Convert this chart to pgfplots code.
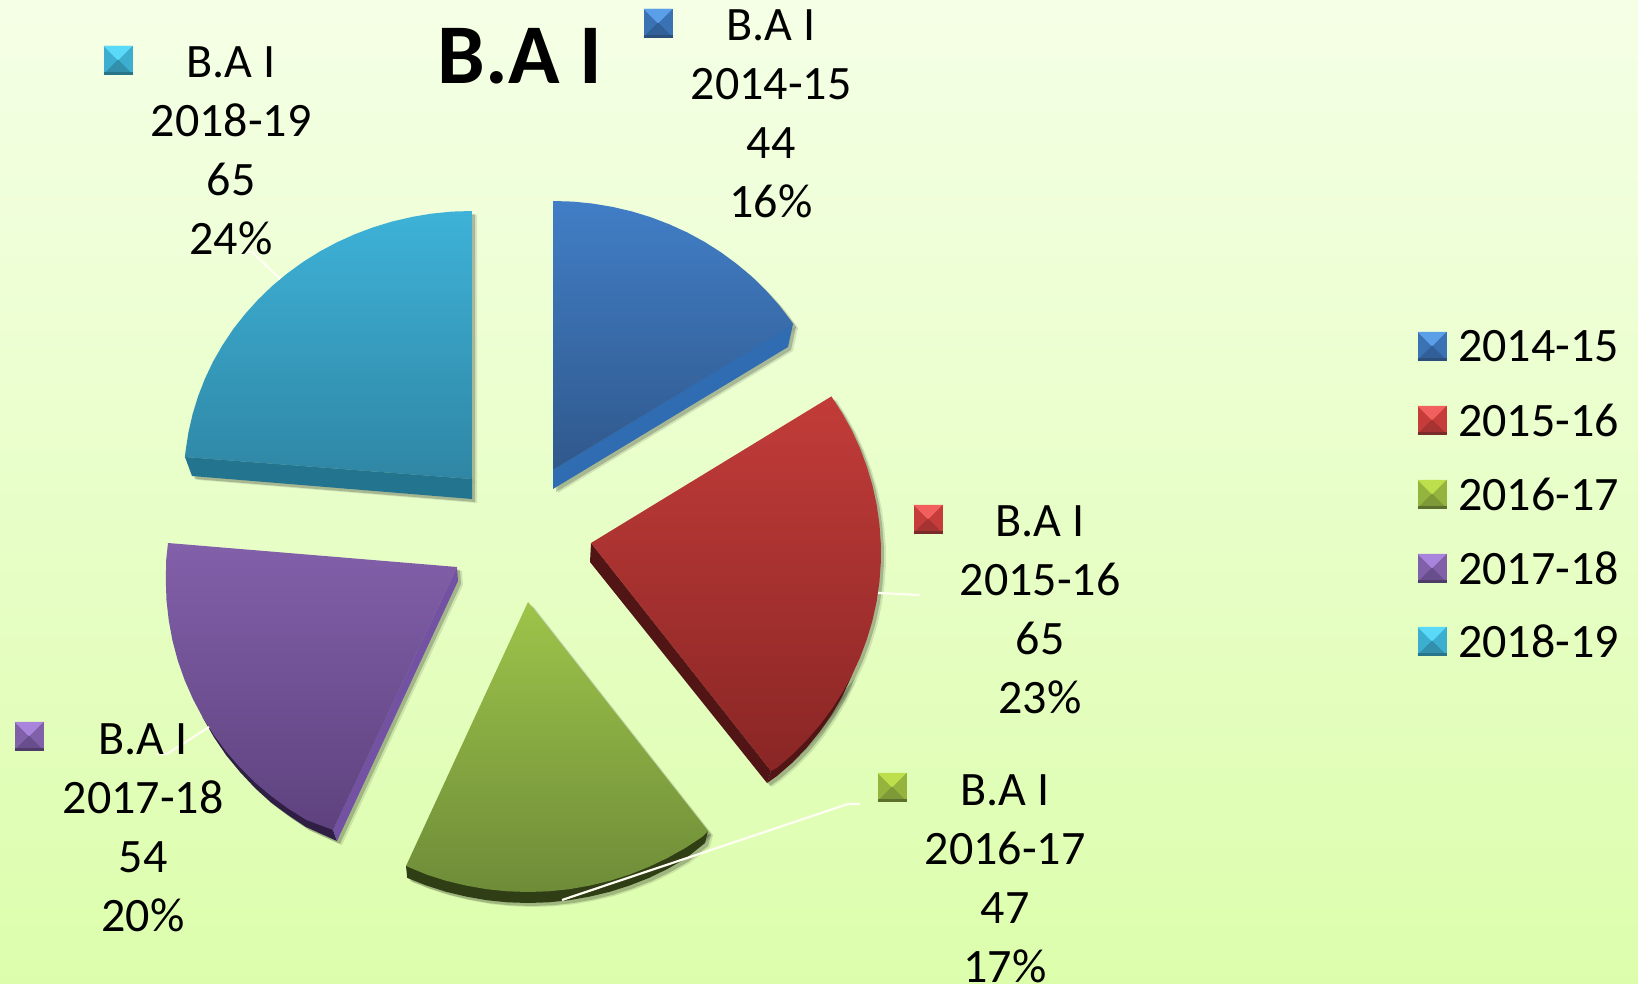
\documentclass[border=0pt]{standalone}
\usepackage{fontspec}
\setmainfont{Carlito}
\usepackage{pgfplots}
\usepackage{pgfplotstable}
\pgfplotsset{compat=1.18}

% chart values: 2014-15 44, 2015-16 65, 2016-17 47, 2017-18 54, 2018-19 65
\pgfplotstableread{
x y
553 201
573.0 201.6
592.8 203.6
612.5 206.9
631.8 211.4
650.8 217.2
669.3 224.3
687.3 232.5
704.6 241.9
721.1 252.4
736.8 264.0
751.7 276.5
765.5 290.0
778.4 304.4
790.1 319.6
793.4 324.3
553 470
}\tblueTop
\pgfplotstableread{
x y
793 324
788 347
553 489
553 470
}\tblueSide
\pgfplotstableread{
x y
591 543
831.4 396.4
842.1 413.0
851.7 430.2
859.9 448.1
866.8 466.5
872.4 485.3
876.6 504.4
879.4 523.7
880.8 543.2
880.8 562.8
879.4 582.3
876.6 601.6
872.4 620.7
866.8 639.5
859.9 657.9
851.7 675.8
842.1 693.0
831.4 709.6
819.5 725.4
806.5 740.3
792.5 754.4
777.4 767.5
771 771
}\tredTop
\pgfplotstableread{
x y
591 543
771 771
767 783
590 562
}\tredSide
\pgfplotstableread{
x y
771 771
767 783
777 776
792.5 762.5
806.5 748
819.5 732
831.4 715
842 697
851.7 675.8
}\tredArc
\pgfplotstableread{
x y
528 602
708 831
702.6 836.6
685.4 847.9
667.4 858.0
648.8 866.9
629.6 874.5
609.9 880.8
589.7 885.6
569.3 889.2
548.7 891.3
528 892
507.3 891.3
486.7 889.2
466.3 885.6
446.1 880.8
426.4 874.5
406 866
}\tgreenTop
\pgfplotstableread{
x y
708 831
705 843
685 859
667.4 869
648.8 878
629.6 885.5
609.9 891.8
589.7 896.6
569.3 900.2
548.7 902.3
528 903
507.3 902.3
486.7 900.2
466.3 896.6
446.1 891.8
426.4 885.5
407.2 877.9
406 866
}\tgreenSide
\pgfplotstableread{
x y
457 567
168 543
166.2 559.9
165.8 580.1
166.5 600.4
168.8 620.7
172.5 640.7
177.8 660.6
184.6 680
192.9 698.9
202.6 717.3
213.8 734.9
226.3 751.7
240 767.5
255 782.4
271.1 796.0
288.3 808.6
306.3 819.9
333 830
}\tpurpleTop
\pgfplotstableread{
x y
457 567
458 581
337 841
333 830
}\tpurpleSide
\pgfplotstableread{
x y
202.6 717.3
213.8 737
226 755
240 772
255 788
271 802.5
288 815
306 827
337 841
333 830
}\tpurpleArc
\pgfplotstableread{
x y
472 479
184.9 457.0
185.6 451.0
188.4 432.5
192.6 414.2
198.1 396.2
205.0 378.6
213.1 361.5
222.6 345.0
233.2 329.1
245.1 314.0
258.0 299.7
271.9 286.2
286.9 273.7
302.7 262.2
319.4 251.7
336.8 242.4
354.9 234.2
373.5 227.2
392.6 221.4
412.1 216.9
431.9 213.6
451.9 211.6
472 211
}\tcyanTop
\pgfplotstableread{
x y
185 457
192 476
472 499
472 479
}\tcyanSide

\newcommand\defkey[5]{%
  \pgfdeclareplotmark{#1}{%
    \fill[#3] (-14pt,14pt)--(14pt,14pt)--(14pt,-14pt)--(-14pt,-14pt)--cycle;
    \fill[#2] (-14pt,14pt)--(14pt,14pt)--(0pt,0pt)--cycle;
    \fill[#4] (-14pt,-14pt)--(14pt,-14pt)--(0pt,0pt)--cycle;
    \fill[#5] (-14pt,-14pt)--(14pt,-14pt)--(14pt,-12pt)--(-14pt,-12pt)--cycle;
  }%
}
\definecolor{bk1}{HTML}{5B9FE8}\definecolor{bk2}{HTML}{3A72B4}\definecolor{bk3}{HTML}{315F97}\definecolor{bk4}{HTML}{2A4F7C}
\definecolor{rk1}{HTML}{F2605E}\definecolor{rk2}{HTML}{C53C3A}\definecolor{rk3}{HTML}{A53331}\definecolor{rk4}{HTML}{7A2A28}
\definecolor{gk1}{HTML}{BDDF4C}\definecolor{gk2}{HTML}{95B43E}\definecolor{gk3}{HTML}{7E9A38}\definecolor{gk4}{HTML}{5C6F2C}
\definecolor{pk1}{HTML}{A884DC}\definecolor{pk2}{HTML}{8060A8}\definecolor{pk3}{HTML}{684E8C}\definecolor{pk4}{HTML}{4E3C68}
\definecolor{ck1}{HTML}{5ADAF8}\definecolor{ck2}{HTML}{3CAFD0}\definecolor{ck3}{HTML}{3290AC}\definecolor{ck4}{HTML}{287488}
\defkey{kblue}{bk1}{bk2}{bk3}{bk4}
\defkey{kred}{rk1}{rk2}{rk3}{rk4}
\defkey{kgreen}{gk1}{gk2}{gk3}{gk4}
\defkey{kpurple}{pk1}{pk2}{pk3}{pk4}
\defkey{kcyan}{ck1}{ck2}{ck3}{ck4}

\definecolor{bgtop}{HTML}{F5FFE6}
\definecolor{bgbot}{HTML}{DCFEAC}

\newcommand\shadowplot[1]{%
  \addplot[draw=none,fill=black,opacity=.10,shift={(5pt,-4pt)}] table[x=x,y=y]{#1} --cycle;
  \addplot[draw=none,fill=black,opacity=.20,shift={(3pt,-3pt)}] table[x=x,y=y]{#1} --cycle;
}
\newcommand\lbl[4]{\node[align=center,anchor=center,inner sep=0pt,font=\fontsize{48}{59}\selectfont] at (axis cs:#1,#2) {B.A I\\#3\\#4};}
\newcommand\lineplot[1]{\addplot[draw=white!95!yellow,line width=2.2pt] coordinates {#1};}

\begin{document}
\begin{tikzpicture}
\begin{axis}[
  scale only axis, width=1638pt, height=984pt,
  xmin=0, xmax=1638, ymin=0, ymax=984, y dir=reverse,
  axis lines=none, ticks=none, clip=false, mark=none,
]
\addplot[draw=none,top color=bgtop,bottom color=bgbot] coordinates {(0,0)(1638,0)(1638,984)(0,984)} --cycle;

% shadows
\shadowplot{\tblueTop}\shadowplot{\tblueSide}
\shadowplot{\tredTop}\shadowplot{\tredSide}\shadowplot{\tredArc}
\shadowplot{\tgreenTop}\shadowplot{\tgreenSide}
\shadowplot{\tpurpleTop}\shadowplot{\tpurpleSide}\shadowplot{\tpurpleArc}
\shadowplot{\tcyanTop}\shadowplot{\tcyanSide}

% slices
\addplot[draw=none,fill={rgb,255:red,47;green,108;blue,178}] table[x=x,y=y]{\tblueSide} --cycle;
\addplot[draw=none,top color={rgb,255:red,65;green,126;blue,198},bottom color={rgb,255:red,48;green,88;blue,140}] table[x=x,y=y]{\tblueTop} --cycle;

\addplot[draw=none,fill={rgb,255:red,81;green,21;blue,21}] table[x=x,y=y]{\tredSide} --cycle;
\addplot[draw=none,fill={rgb,255:red,81;green,21;blue,21}] table[x=x,y=y]{\tredArc} --cycle;
\addplot[draw=none,top color={rgb,255:red,194;green,60;blue,57},bottom color={rgb,255:red,137;green,38;blue,37}] table[x=x,y=y]{\tredTop} --cycle;

\addplot[draw=none,fill={rgb,255:red,47;green,62;blue,20}] table[x=x,y=y]{\tgreenSide} --cycle;
\addplot[draw=none,top color={rgb,255:red,158;green,196;blue,74},bottom color={rgb,255:red,110;green,140;blue,56}] table[x=x,y=y]{\tgreenTop} --cycle;

\addplot[draw=none,fill={rgb,255:red,47;green,31;blue,69}] table[x=x,y=y]{\tpurpleArc} --cycle;
\addplot[draw=none,fill={rgb,255:red,115;green,82;blue,163}] table[x=x,y=y]{\tpurpleSide} --cycle;
\addplot[draw=none,top color={rgb,255:red,130;green,96;blue,170},bottom color={rgb,255:red,94;green,66;blue,126}] table[x=x,y=y]{\tpurpleTop} --cycle;

\addplot[draw=none,fill={rgb,255:red,35;green,116;blue,143}] table[x=x,y=y]{\tcyanSide} --cycle;
\addplot[draw=none,top color={rgb,255:red,62;green,178;blue,216},bottom color={rgb,255:red,47;green,134;blue,164}] table[x=x,y=y]{\tcyanTop} --cycle;

% leader lines
\lineplot{(280,279)(252,252)(242,252)}
\lineplot{(878,593)(920,595)}
\lineplot{(562,900)(848,804)(860,804)}
\lineplot{(209,727)(167,754)(157,754)}

% legend keys beside the labels and in the legend
\addplot[only marks,mark=kblue] coordinates {(658,23)(1432,346)};
\addplot[only marks,mark=kred] coordinates {(928,519)(1432,420)};
\addplot[only marks,mark=kgreen] coordinates {(892,787)(1432,494)};
\addplot[only marks,mark=kpurple] coordinates {(29,736)(1432,568)};
\addplot[only marks,mark=kcyan] coordinates {(118,60)(1432,641)};

% title
\node[font=\fontsize{85}{85}\selectfont\bfseries,inner sep=0pt] at (axis cs:520,56) {B.A I};

% data labels
\lbl{771}{114}{2014-15\\44}{16\%}
\lbl{1040}{610}{2015-16\\65}{23\%}
\lbl{1005}{879}{2016-17\\47}{17\%}
\lbl{143}{828}{2017-18\\54}{20\%}
\lbl{231}{151}{2018-19\\65}{24\%}

% legend text
\foreach \yy/\tt in {346/2014-15,420/2015-16,494/2016-17,568/2017-18,641/2018-19}{
  \edef\doit{\noexpand\node[anchor=west,inner sep=0pt,font=\noexpand\fontsize{48}{59}\noexpand\selectfont] at (axis cs:1458,\yy) {\tt};}
  \doit
}
\end{axis}
\end{tikzpicture}
\end{document}
